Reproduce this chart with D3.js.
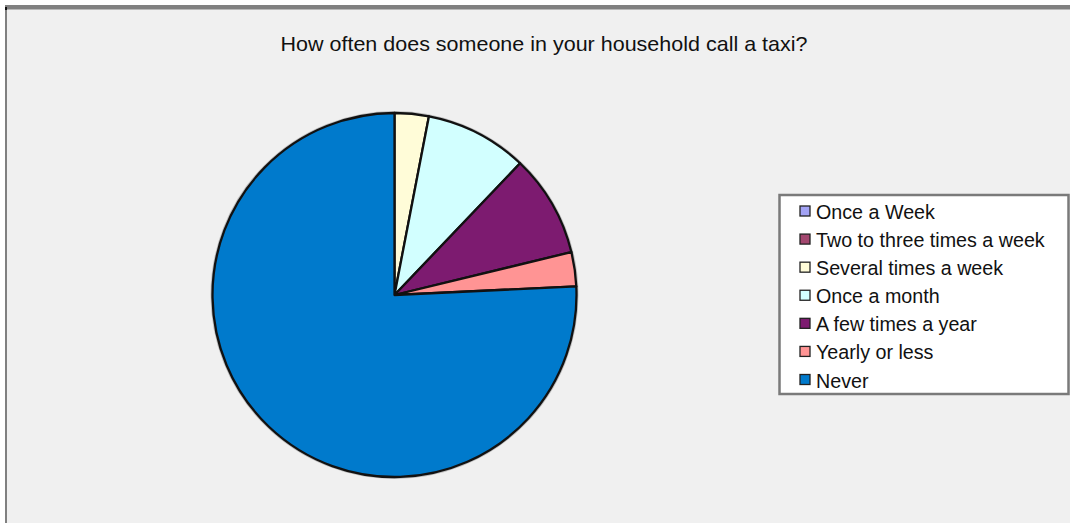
<!DOCTYPE html>
<html>
<head>
<meta charset="utf-8">
<script src="https://cdn.jsdelivr.net/npm/d3@7"></script>
<style>
  html, body { margin: 0; padding: 0; background: #ffffff; }
  svg { display: block; }
</style>
</head>
<body>
<svg id="chart" width="1070" height="523"></svg>
<script>
// ---- data ----
const title = "How often does someone in your household call a taxi?";
const categories = [
  "Once a Week",
  "Two to three times a week",
  "Several times a week",
  "Once a month",
  "A few times a year",
  "Yearly or less",
  "Never"
];
const values = [0, 0, 1, 3, 3, 1, 25];
const sliceColors = ["#9999FF", "#993366", "#FFFCD8", "#D2FFFF", "#7D1B70", "#FF9494", "#007ACC"];
const legendColors = ["#A3A3F5", "#A3476F", "#FFFCD8", "#D2FFFF", "#7D1B70", "#FF9494", "#007ACC"];

// ---- layout ----
const W = 1070, H = 523;
const svg = d3.select("#chart");

// frame
svg.append("rect").attr("x", 0).attr("y", 0).attr("width", W).attr("height", H).attr("fill", "#ffffff");
svg.append("rect").attr("x", 5).attr("y", 5).attr("width", W - 5).attr("height", H - 5).attr("fill", "#F0F0F0");
svg.append("rect").attr("x", 5).attr("y", 5).attr("width", W - 5).attr("height", 4.5).attr("fill", "#808080");
svg.append("rect").attr("x", 5).attr("y", 5).attr("width", 2).attr("height", H - 5).attr("fill", "#808080");
svg.append("rect").attr("x", 5).attr("y", 7).attr("width", 2).attr("height", 3).attr("fill", "#111");

// title
svg.append("text")
  .attr("x", 544).attr("y", 51)
  .attr("text-anchor", "middle")
  .attr("font-family", "'Liberation Sans', Arial, sans-serif")
  .attr("font-size", 21)
  .attr("fill", "#111")
  .attr("textLength", 527)
  .attr("lengthAdjust", "spacingAndGlyphs")
  .text(title);

// pie
const cx = 394.5, cy = 295, r = 182;
const pie = d3.pie().sort(null).value(d => d.v).startAngle(0).endAngle(2 * Math.PI);
const arc = d3.arc().innerRadius(0).outerRadius(r);
const data = categories.map((c, i) => ({ c, v: values[i], color: sliceColors[i] }));
const color = d3.scaleOrdinal().domain(categories).range(sliceColors);

const g = svg.append("g").attr("transform", `translate(${cx},${cy})`);
// soft shadow ring
g.append("circle").attr("r", r + 1).attr("fill", "none").attr("stroke", "#9a9a9a").attr("stroke-width", 2).attr("opacity", 0.6);
g.selectAll("path.slice")
  .data(pie(data).filter(d => d.data.v > 0))
  .join("path")
  .attr("class", "slice")
  .attr("d", arc)
  .attr("fill", d => color(d.data.c))
  .attr("stroke", "#111")
  .attr("stroke-width", 2.3)
  .attr("stroke-linejoin", "round");

// legend
const lx = 779.5, ly = 195, lw = 289, lh = 199;
svg.append("rect")
  .attr("x", lx).attr("y", ly).attr("width", lw).attr("height", lh)
  .attr("fill", "#ffffff").attr("stroke", "#7a7a7a").attr("stroke-width", 2.5);

const rowY = d3.scaleLinear().domain([0, categories.length - 1]).range([211.5, 380]);
const items = svg.append("g").selectAll("g.item")
  .data(categories)
  .join("g")
  .attr("class", "item")
  .attr("transform", (d, i) => `translate(0,${rowY(i)})`);

items.append("rect")
  .attr("x", 800).attr("y", -5.5).attr("width", 10).attr("height", 10)
  .attr("fill", (d, i) => legendColors[i])
  .attr("stroke", "#222").attr("stroke-width", 1.3);

items.append("text")
  .attr("x", 816).attr("y", 7.5)
  .attr("font-family", "'Liberation Sans', Arial, sans-serif")
  .attr("font-size", 19.7)
  .attr("fill", "#111")
  .text(d => d);
</script>
</body>
</html>
